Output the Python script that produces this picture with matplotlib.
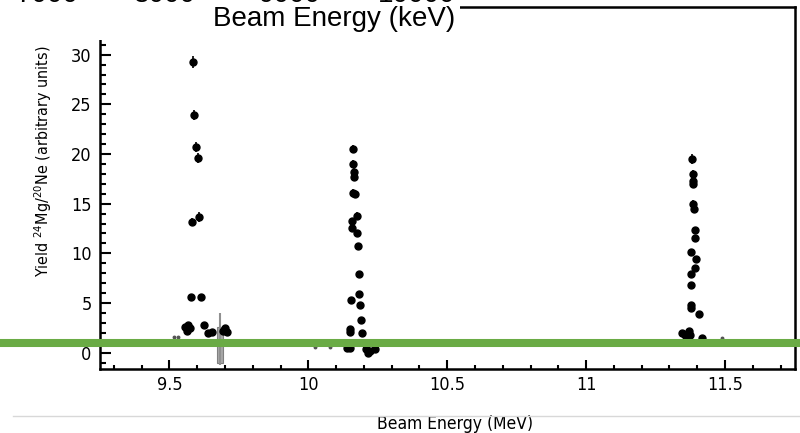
import matplotlib.pyplot as plt
import numpy as np
from matplotlib.lines import Line2D
from matplotlib.patches import Rectangle

# data: beam energy (MeV), yield, error
energy = [9.586, 9.590, 9.597, 9.602, 9.581, 9.607, 9.579, 9.615,
          9.556, 9.568, 9.574, 9.564, 9.625, 9.640, 9.652, 9.700, 9.708, 9.694,
          10.160, 10.162, 10.164, 10.164, 10.162, 10.168, 10.174, 10.156, 10.156,
          10.176, 10.179, 10.181, 10.183, 10.154, 10.186, 10.189, 10.151, 10.151,
          10.192, 10.138, 10.150, 10.208, 10.222, 10.240, 10.216,
          11.380, 11.384, 11.384, 11.386, 11.386, 11.388, 11.392, 11.392, 11.378,
          11.396, 11.392, 11.377, 11.378, 11.377, 11.377, 11.406, 11.344, 11.356,
          11.372, 11.374, 11.362, 11.418]
yld = [29.3, 23.9, 20.7, 19.6, 13.2, 13.7, 5.6, 5.6,
       2.6, 2.8, 2.5, 2.2, 2.8, 2.0, 2.1, 2.5, 2.1, 2.2,
       20.5, 19.0, 18.2, 17.7, 16.1, 16.0, 13.8, 13.3, 12.5,
       12.0, 10.7, 7.9, 5.9, 5.3, 4.8, 3.3, 2.4, 2.1,
       2.0, 0.5, 0.5, 0.4, 0.2, 0.4, 0.0,
       19.5, 18.0, 17.3, 17.0, 15.0, 14.5, 12.3, 11.5, 10.1,
       9.4, 8.5, 7.9, 6.8, 4.8, 4.5, 3.9, 2.0, 1.8,
       2.2, 1.8, 1.9, 1.5]
err = [0.6, 0.5, 0.5, 0.5, 0.4, 0.5, 0.2, 0.2,
       0.15, 0.15, 0.15, 0.15, 0.15, 0.15, 0.15, 0.15, 0.15, 0.15,
       0.4, 0.4, 0.4, 0.4, 0.4, 0.4, 0.35, 0.3, 0.3,
       0.3, 0.3, 0.25, 0.2, 0.2, 0.2, 0.15, 0.15, 0.15,
       0.15, 0.1, 0.1, 0.1, 0.1, 0.1, 0.1,
       0.5, 0.4, 0.4, 0.4, 0.4, 0.4, 0.35, 0.35, 0.3,
       0.3, 0.3, 0.25, 0.25, 0.2, 0.2, 0.15, 0.15, 0.15,
       0.15, 0.15, 0.15, 0.1]

# faint small points
faint_e = [9.515, 9.532, 10.024, 10.078, 11.488]
faint_y = [1.6, 1.6, 0.6, 0.6, 1.5]

# grey point near 9.68 MeV
grey_e = 9.682
grey_y = 0.8
grey_box = 1.8
grey_err = [2.05, 3.2]

green_level = 0.95

top_ticks = ['7000', '8000', '9000', '10000']
top_tick_px = [48, 165, 290, 417]

plt.rcParams['font.family'] = ['DejaVu Sans']
plt.rcParams['font.stretch'] = 'condensed'
arial = ['Liberation Sans', 'DejaVu Sans']

fig = plt.figure(figsize=(8, 4.33), dpi=100)
ax = fig.add_axes([100 / 800, 1 - 369 / 433, 695 / 800, 362 / 433])

ax.errorbar(energy, yld, yerr=err, fmt='o', color='black', ms=5,
            elinewidth=1.2, capsize=0, zorder=3)
ax.plot(faint_e, faint_y, 'o', color='#555555', ms=1.8, zorder=3)

ax.bar(grey_e, 2 * grey_box, bottom=grey_y - grey_box, width=0.025,
       color='#a8a8a8', edgecolor='#808080', lw=0.8, zorder=2)
ax.errorbar([grey_e], [grey_y], yerr=[[grey_err[0]], [grey_err[1]]], fmt='none',
            ecolor='#909090', elinewidth=1.5, capsize=0, zorder=2)

ax.set_xlim(9.25, 11.752)
ax.set_ylim(-1.65, 34.8)
ax.set_xticks([9.5, 10, 10.5, 11, 11.5])
ax.set_xticklabels(['9.5', '10', '10.5', '11', '11.5'])
ax.set_xticks(np.arange(9.3, 11.75, 0.1), minor=True)
ax.set_yticks([0, 5, 10, 15, 20, 25, 30])
ax.set_yticks(np.arange(-1, 35, 1), minor=True)

ax.tick_params(axis='both', which='both', direction='in', width=1.5,
               top=False, right=False, labelsize=13, colors='black')
ax.tick_params(axis='x', which='major', length=6.5, pad=5)
ax.tick_params(axis='x', which='minor', length=3.2)
ax.tick_params(axis='y', which='major', length=8, pad=6)
ax.tick_params(axis='y', which='minor', length=4.3)
for s in ax.spines.values():
    s.set_linewidth(1.8)

ax.set_ylabel('Yield $^{24}$Mg/$^{20}$Ne (arbitrary units)', fontsize=11.5)
ax.yaxis.set_label_coords(-0.066, 0.575)
ax.text(0.511, -0.152, 'Beam Energy (MeV)', transform=ax.transAxes,
        ha='center', va='center', fontsize=12.5)

# grey rule under the chart
fig.add_artist(Line2D([13 / 800, 1], [1 - 416 / 433] * 2, color='#d8d8d8',
                      lw=1, transform=fig.transFigure))

# white cover with the upper figure's axis title
fig.add_artist(Rectangle((0, 1 - 40 / 433), 460 / 800, 40 / 433,
                         facecolor='white', edgecolor='none',
                         transform=fig.transFigure, zorder=5))
fig.text(334 / 800, 1 - 19 / 433, 'Beam Energy (keV)', ha='center', va='center',
         family=arial, stretch='normal', fontsize=20, zorder=6)
for lab, px in zip(top_ticks, top_tick_px):
    fig.text(px / 800, 1 - 1.5 / 433, lab, ha='center', va='baseline',
             family=arial, stretch='normal', fontsize=20, zorder=6)

# green horizontal line across the whole figure
fig.canvas.draw()
yg = fig.transFigure.inverted().transform(ax.transData.transform((10, green_level)))[1]
fig.add_artist(Line2D([0, 1], [yg, yg], color='#6aab45', lw=5.8,
                      transform=fig.transFigure, zorder=10))

fig.savefig('out.png', dpi=100)
